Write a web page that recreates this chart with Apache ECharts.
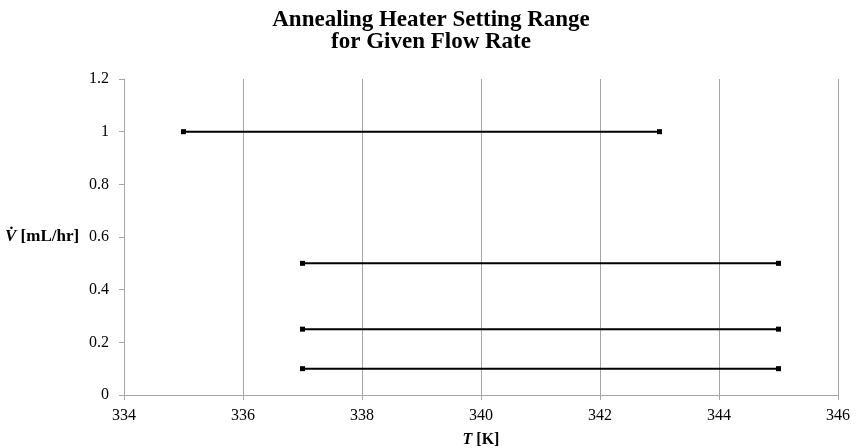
<!DOCTYPE html>
<html><head><meta charset="utf-8">
<script src="https://cdn.jsdelivr.net/npm/echarts@6/dist/echarts.min.js"></script>
<style>html,body{margin:0;padding:0;background:#fff}#c{width:862px;height:448px}</style>
</head><body><div id="c"></div>
<script>
const flowRates = [1, 0.5, 0.25, 0.1];
const tStart = [335, 337, 337, 337];
const tEnd = [343, 345, 345, 345];
const xTicks = [334, 336, 338, 340, 342, 344, 346];
const yTicks = [0, 0.2, 0.4, 0.6, 0.8, 1, 1.2];

const font = '"Liberation Serif", "Times New Roman", serif';
const chart = echarts.init(document.getElementById('c'));
const series = flowRates.map((v, i) => ({
  type: 'line',
  data: [[tStart[i], v], [tEnd[i], v]],
  symbol: 'rect', symbolSize: 5,
  lineStyle: {color: '#000', width: 2},
  itemStyle: {color: '#000'},
  animation: false
}));
chart.setOption({
  animation: false,
  title: {
    text: 'Annealing Heater Setting Range\nfor Given Flow Rate',
    left: 'center', top: 4,
    textStyle: {fontFamily: font, fontWeight: 'bold', fontSize: 23, color: '#000', lineHeight: 22}
  },
  grid: {left: 124, right: 24, top: 79, bottom: 53, outerBoundsMode: 'none', containLabel: false},
  xAxis: {
    type: 'value', min: xTicks[0], max: xTicks[xTicks.length-1], interval: 2,
    axisLine: {lineStyle: {color: '#a6a6a6'}},
    axisTick: {show: true, length: 5, lineStyle: {color: '#a6a6a6'}},
    splitLine: {show: true, lineStyle: {color: '#a6a6a6', width: 1}},
    axisLabel: {color: '#000', fontFamily: font, fontSize: 16, margin: 13},
    name: '{i|T}{b| [K]}', nameLocation: 'middle', nameGap: 37,
    nameTextStyle: {color: '#000', fontFamily: font, fontSize: 16, fontWeight: 'bold',
      rich: {
        i: {fontStyle: 'italic', fontWeight: 'bold', fontFamily: font, fontSize: 16, color: '#000'},
        b: {fontWeight: 'bold', fontFamily: font, fontSize: 16, color: '#000'}
      }}
  },
  yAxis: {
    type: 'value', min: 0, max: 1.2, interval: 0.2,
    axisLine: {show: true, lineStyle: {color: '#a6a6a6'}},
    axisTick: {show: true, length: 5, lineStyle: {color: '#a6a6a6'}},
    splitLine: {show: false},
    axisLabel: {color: '#000', fontFamily: font, fontSize: 16, margin: 15,
      formatter: v => String(Math.round(v*10)/10)}
  },
  graphic: [{
    type: 'text', left: 5, top: 228,
    style: {
      text: '{i|V̇}{b| [mL/hr]}',
      rich: {
        i: {fontStyle: 'italic', fontWeight: 'bold', fontFamily: font, fontSize: 17, fill: '#000'},
        b: {fontWeight: 'bold', fontFamily: font, fontSize: 17, fill: '#000'}
      }
    }
  }],
  series: series
});
</script></body></html>
